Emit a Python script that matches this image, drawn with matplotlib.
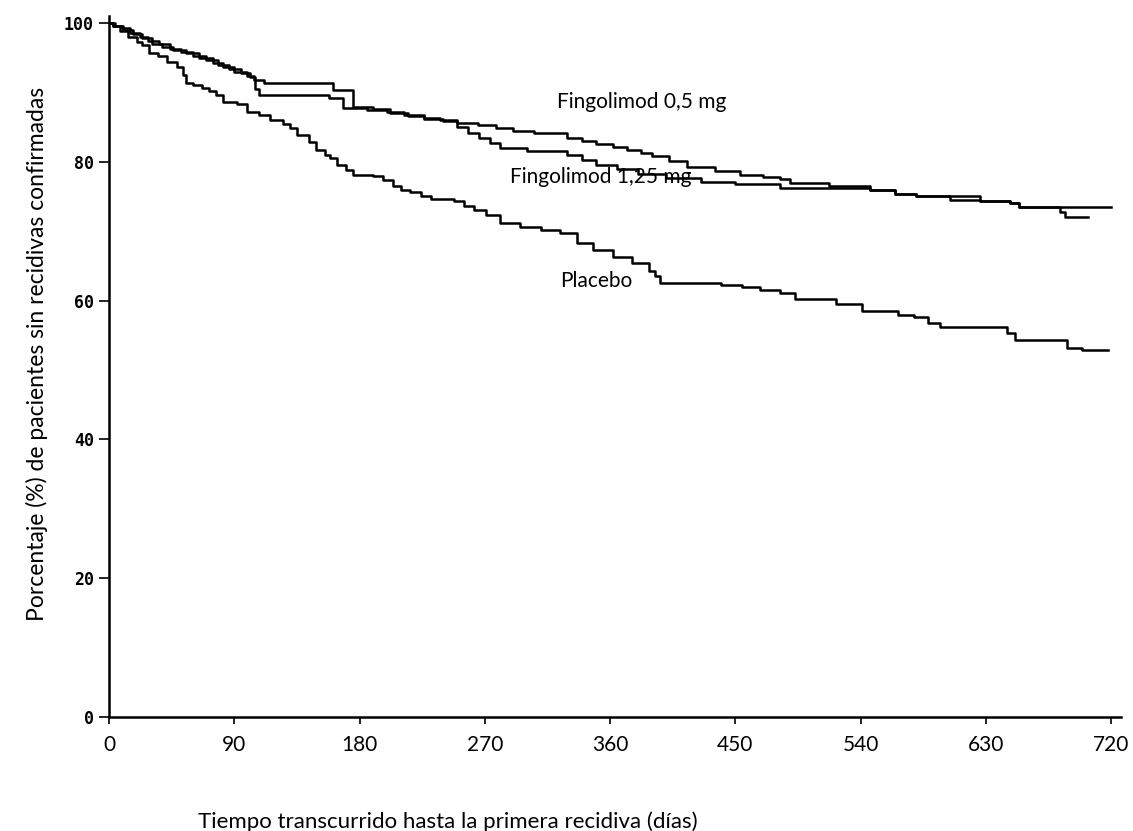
import matplotlib
matplotlib.use("Agg")
import matplotlib.pyplot as plt

# Kaplan-Meier curves: (day, % relapse-free)
placebo = [(0, 100), (3, 99.5), (8, 98.8), (14, 98.0), (20, 97.3), (24, 96.8), (29, 95.7),
           (35, 95.2), (42, 94.4), (49, 93.7), (53, 92.5), (55, 91.4), (60, 91.0), (67, 90.6),
           (72, 90.2), (77, 89.6), (82, 88.6), (92, 88.3), (99, 87.2), (108, 86.7), (116, 86.0),
           (125, 85.4), (130, 84.8), (135, 83.9), (144, 82.9), (149, 81.7), (155, 81.0),
           (159, 80.5), (164, 79.5), (170, 78.8), (175, 78.1), (190, 77.9), (197, 77.4),
           (204, 76.5), (210, 76.0), (216, 75.6), (224, 75.1), (231, 74.6), (248, 74.3),
           (255, 73.6), (262, 73.0), (271, 72.3), (281, 71.2), (295, 70.6), (310, 70.2),
           (324, 69.7), (336, 68.3), (348, 67.3), (362, 66.3), (376, 65.4), (388, 64.3),
           (392, 63.6), (396, 62.6), (440, 62.3), (455, 62.0), (468, 61.5), (482, 61.1),
           (493, 60.2), (522, 59.5), (541, 58.5), (567, 57.9), (578, 57.6), (588, 56.8),
           (597, 56.2), (645, 55.3), (651, 54.3), (688, 53.2), (699, 52.9), (718, 52.9)]

fingo_05 = [(0, 100), (4, 99.6), (10, 99.0), (17, 98.4), (24, 97.8), (31, 97.0), (38, 96.6),
            (46, 96.1), (55, 95.6), (65, 95.0), (75, 94.2), (82, 93.7), (90, 93.0), (99, 92.4),
            (104, 91.8), (111, 91.4), (161, 90.3), (175, 87.9), (190, 87.6), (202, 87.0),
            (215, 86.6), (226, 86.3), (238, 86.0), (250, 85.6), (265, 85.3), (278, 84.8),
            (290, 84.5), (305, 84.1), (329, 83.4), (340, 83.0), (350, 82.5), (362, 82.1),
            (372, 81.7), (382, 81.2), (390, 80.8), (402, 80.1), (415, 79.3), (435, 78.7),
            (453, 78.1), (470, 77.8), (482, 77.5), (489, 76.9), (517, 76.5), (547, 75.9),
            (565, 75.4), (580, 75.1), (626, 74.3), (647, 74.0), (654, 73.5), (720, 73.5)]

fingo_125 = [(0, 100), (3, 99.5), (9, 99.2), (15, 98.6), (22, 98.0), (28, 97.4), (36, 97.0),
             (44, 96.3), (52, 95.8), (60, 95.3), (70, 94.6), (78, 94.0), (86, 93.4), (95, 92.8),
             (101, 92.2), (105, 90.5), (108, 89.6), (158, 89.2), (168, 87.8), (185, 87.5),
             (200, 87.1), (212, 86.7), (226, 86.2), (240, 85.9), (250, 85.0), (258, 84.2),
             (266, 83.4), (274, 82.7), (281, 82.0), (300, 81.5), (329, 81.0), (340, 80.2),
             (350, 79.5), (365, 78.9), (380, 78.3), (400, 77.7), (425, 77.1), (450, 76.8),
             (482, 76.2), (543, 76.2), (547, 75.9), (565, 75.4), (580, 75.1), (604, 74.5),
             (626, 74.3), (647, 74.0), (654, 73.5), (683, 72.8), (687, 72.0), (703, 72.0)]

series_labels = ["Fingolimod 0,5 mg", "Fingolimod 1,25 mg", "Placebo"]
label_pos = [(383, 88.6), (353, 77.8), (350, 62.8)]

x_ticks = [0, 90, 180, 270, 360, 450, 540, 630, 720]
y_ticks = [0, 20, 40, 60, 80, 100]

fig = plt.figure(figsize=(11.33, 8.31), dpi=100)
ax = fig.add_axes([109 / 1133, 114 / 831, 1012 / 1133, 701 / 831])

for curve in [placebo, fingo_05, fingo_125]:
    d = [p[0] for p in curve]
    v = [p[1] for p in curve]
    ax.step(d, v, where="post", color="black", lw=1.8)

for txt, (xx, yy) in zip(series_labels, label_pos):
    ax.text(xx, yy, txt, ha="center", va="center", fontsize=15, family="Lato", color="black")

ax.set_xlim(0, 727)
ax.set_ylim(0, 101)
ax.set_xticks(x_ticks)
ax.set_yticks(y_ticks)
ax.set_xticklabels([str(t) for t in x_ticks], family="Lato", fontsize=15)
ax.set_yticklabels([str(t) for t in y_ticks], family="DejaVu Sans Mono", fontsize=12, fontweight="bold")
ax.tick_params(axis="y", direction="out", length=7, width=1.2, pad=4)
ax.tick_params(axis="x", direction="out", length=5, width=1.2, pad=8)

for s in ["top", "right"]:
    ax.spines[s].set_visible(False)
ax.spines["left"].set_linewidth(1.8)
ax.spines["bottom"].set_linewidth(1.8)

fig.text(37 / 1133, 1 - 354 / 831, "Porcentaje (%) de pacientes sin recidivas confirmadas",
         rotation=90, ha="center", va="center", fontsize=16.5, family="Lato")
fig.text(198 / 1133, 1 - 822 / 831, "Tiempo transcurrido hasta la primera recidiva (días)",
         ha="left", va="center", fontsize=16, family="Lato")

fig.savefig("out.png", dpi=100)
